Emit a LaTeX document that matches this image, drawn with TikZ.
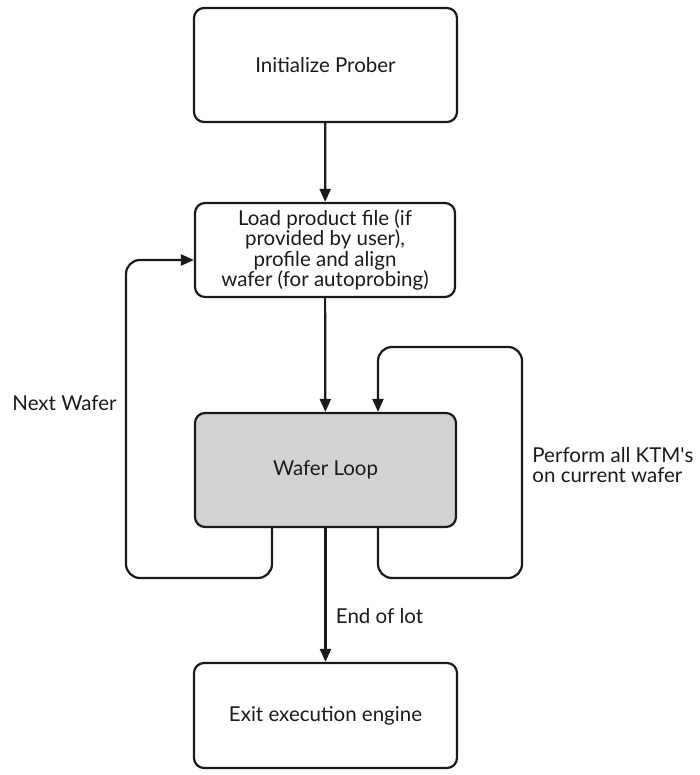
\documentclass[tikz,border=0pt]{standalone}
\usepackage{fontspec}
\setmainfont{Lato}
\usetikzlibrary{arrows.meta,positioning}
\definecolor{ink}{HTML}{1A1A1A}
\definecolor{loopgray}{HTML}{D1D2D4}

\begin{document}
\begin{tikzpicture}[x=1pt,y=-1pt,line width=2.2pt,
    every node/.style={font=\fontsize{20.5}{20.5}\selectfont,text=ink},
    stepbox/.style={draw=ink,rounded corners=10pt,align=center,inner sep=0pt},
    flow/.style={-{Triangle[width=11pt,length=13pt]},draw=ink,rounded corners=14pt}]
  \useasboundingbox (0,0) rectangle (699,775);
  \node[stepbox,minimum width=263pt,minimum height=114pt] (init) at (325.5,65) {Initialize Prober};
  \node[stepbox,minimum width=260pt,minimum height=94pt] (load) at (325,250)
    {Load product file (if\\provided by user),\\profile and align\\wafer (for autoprobing)};
  \node[stepbox,fill=loopgray,minimum width=261pt,minimum height=114pt] (wafer) at (325.5,470) {Wafer Loop};
  \node[stepbox,minimum width=263pt,minimum height=105pt] (exit) at (325.5,715.5) {Exit execution engine};
  % loop corners
  \coordinate (nl) at (126,578);
  \coordinate (nt) at (126,260);
  \coordinate (kb) at (522,578);
  \coordinate (kt) at (522,347);
  \draw[flow] (init) -- (load);
  \draw[flow] (load) -- (wafer);
  \draw[flow] (wafer) -- node[right=6pt,pos=.66] (eol) {End of lot} (exit);
  \draw[flow] (wafer.south -| 272,0) |- (nl) -- (nt) -- (load.west |- nt);
  \draw[flow] (wafer.south -| 378,0) |- (kb) -- (kt) -| (wafer.north -| 378,0);
  \node[anchor=west] (next) at (8,403) {Next Wafer};
  \node[anchor=west,align=left] (ktm) at (528,465) {Perform all KTM\textquotesingle s\\on current wafer};
\end{tikzpicture}
\end{document}
